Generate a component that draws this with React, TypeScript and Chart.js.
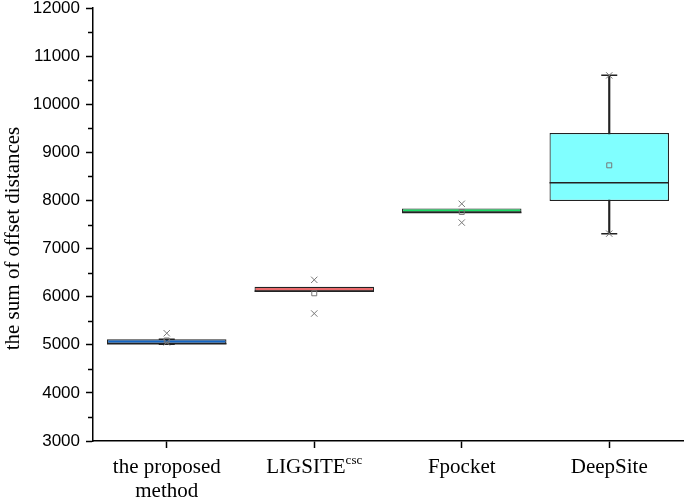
import React, { useEffect, useRef } from "react";
import { Chart, registerables } from "chart.js";

Chart.register(...registerables);

const categories = ["the proposed method", "LIGSITEcsc", "Fpocket", "DeepSite"];
const labelLines = [["the proposed", "method"], ["LIGSITE"], ["Fpocket"], ["DeepSite"]];
const labelSuperscripts = ["", "csc", "", ""];
const boxColors = ["#1366C6", "#EC6B6D", "#1BDD66", "#80FFFF"];

const q1 = [5020, 6110, 7750, 7990];
const q3 = [5115, 6205, 7835, 9400];
const median = [5020, 6110, 7750, 8370];
const mean = [5090, 6070, 7760, 8730];
const whiskerLow = [5010, null, null, 7310];
const whiskerHigh = [5115, null, null, 10600];
const markHigh = [5240, 6350, 7930, 10600];
const markLow = [5050, 5650, 7540, 7310];

const yMin = 3000;
const yMax = 12000;
const yStep = 500;
const yLabelStep = 1000;
const yTitle = "the sum of offset distances";

const BOX_FRACTION = 0.81;

const customPlugin = {
  id: "customDraw",
  afterDraw(chart: any) {
    const { ctx } = chart;
    const x = chart.scales.x;
    const y = chart.scales.y;
    ctx.save();
    // minor y ticks
    ctx.strokeStyle = "#000";
    ctx.lineWidth = 1.5;
    y.ticks.forEach((t: any) => {
      if (t.value % yLabelStep !== 0) {
        const py = Math.round(y.getPixelForValue(t.value)) + 0.5;
        ctx.beginPath();
        ctx.moveTo(y.right - 5, py);
        ctx.lineTo(y.right, py);
        ctx.stroke();
      }
    });
    // x labels
    ctx.fillStyle = "#000";
    ctx.textBaseline = "alphabetic";
    const mainFont = '21px "Liberation Serif", "Times New Roman", serif';
    const supFont = '13px "Liberation Serif", "Times New Roman", serif';
    const base = chart.chartArea.bottom + 32;
    const lineH = 24;
    categories.forEach((_c, i) => {
      const cx = x.getPixelForValue(i);
      const lines = labelLines[i];
      const sup = labelSuperscripts[i];
      lines.forEach((ln, j) => {
        const by = base + j * lineH;
        if (sup && j === lines.length - 1) {
          ctx.font = mainFont;
          const w1 = ctx.measureText(ln).width;
          ctx.font = supFont;
          const w2 = ctx.measureText(sup).width;
          const sx = cx - (w1 + w2) / 2;
          ctx.textAlign = "left";
          ctx.font = mainFont;
          ctx.fillText(ln, sx, by);
          ctx.font = supFont;
          ctx.fillText(sup, sx + w1, by - 9);
        } else {
          ctx.font = mainFont;
          ctx.textAlign = "center";
          ctx.fillText(ln, cx, by);
        }
      });
    });
    // y title
    ctx.font = mainFont;
    ctx.textAlign = "center";
    ctx.textBaseline = "middle";
    ctx.translate(13, (chart.chartArea.top + chart.chartArea.bottom) / 2 + 14);
    ctx.rotate(-Math.PI / 2);
    ctx.fillText(yTitle, 0, 0);
    ctx.restore();
  },
};

export default function App() {
  const canvasRef = useRef<HTMLCanvasElement | null>(null);

  useEffect(() => {
    document.body.style.margin = "0";
    const canvas = canvasRef.current;
    if (!canvas) return;

    const halfBox = (ctx: any) => {
      const sc = ctx.chart.scales.x;
      if (!sc) return 59;
      return ((sc.right - sc.left) / categories.length) * BOX_FRACTION / 2;
    };

    const chart = new Chart(canvas, {
      type: "bar",
      data: {
        labels: categories,
        datasets: [
          {
            type: "bar",
            label: "box",
            data: q1.map((v, i) => [v, q3[i]]) as any,
            backgroundColor: boxColors,
            borderColor: "#222",
            borderWidth: 1.2,
            borderSkipped: false,
            grouped: false,
            barPercentage: BOX_FRACTION,
            categoryPercentage: 1,
            order: 5,
          } as any,
          {
            type: "bar",
            label: "whisker",
            data: whiskerLow.map((v, i) => (v === null ? null : [v, whiskerHigh[i]])) as any,
            backgroundColor: "#222",
            borderWidth: 0,
            grouped: false,
            barThickness: 1.5,
            order: 6,
          } as any,
          {
            type: "line",
            label: "median",
            data: median,
            showLine: false,
            pointStyle: "line",
            pointRadius: halfBox,
            pointHoverRadius: halfBox,
            borderColor: "#222",
            borderWidth: 1.5,
            order: 3,
          } as any,
          {
            type: "line",
            label: "capHigh",
            data: whiskerHigh,
            showLine: false,
            pointStyle: "line",
            pointRadius: 8,
            borderColor: "#222",
            borderWidth: 1.5,
            order: 3,
          } as any,
          {
            type: "line",
            label: "capLow",
            data: whiskerLow,
            showLine: false,
            pointStyle: "line",
            pointRadius: 8,
            borderColor: "#222",
            borderWidth: 1.5,
            order: 3,
          } as any,
          {
            type: "line",
            label: "mean",
            data: mean,
            showLine: false,
            pointStyle: "rect",
            pointRadius: 3.5,
            backgroundColor: "rgba(0,0,0,0)",
            borderColor: "#777",
            borderWidth: 1,
            order: 1,
          } as any,
          {
            type: "line",
            label: "markHigh",
            data: markHigh,
            showLine: false,
            pointStyle: "crossRot",
            pointRadius: 4.5,
            borderColor: "#777",
            borderWidth: 1,
            order: 1,
          } as any,
          {
            type: "line",
            label: "markLow",
            data: markLow,
            showLine: false,
            pointStyle: "crossRot",
            pointRadius: 4.5,
            borderColor: "#777",
            borderWidth: 1,
            order: 1,
          } as any,
        ],
      },
      options: {
        animation: false,
        responsive: true,
        maintainAspectRatio: false,
        layout: { autoPadding: false, padding: { top: 8, right: 2, left: 0, bottom: 0 } },
        plugins: { legend: { display: false }, tooltip: { enabled: false } },
        scales: {
          x: {
            type: "category",
            offset: true,
            grid: {
              offset: false,
              drawOnChartArea: false,
              drawTicks: true,
              tickLength: 7,
              tickColor: "#000",
              tickWidth: 1.5,
            },
            border: { display: true, color: "#000", width: 1.5 },
            ticks: { display: false },
            afterFit: (scale: any) => {
              scale.height = 59;
              scale.paddingLeft = 0;
              scale.paddingRight = 0;
            },
          },
          y: {
            min: yMin,
            max: yMax,
            grid: {
              drawOnChartArea: false,
              drawTicks: true,
              tickLength: 7,
              tickWidth: 1.5,
              tickColor: (ctx: any) =>
                ctx.tick && ctx.tick.value % yLabelStep === 0 ? "#000" : "rgba(0,0,0,0)",
            },
            border: { display: true, color: "#000", width: 1.5 },
            ticks: {
              stepSize: yStep,
              autoSkip: false,
              color: "#000",
              padding: 6,
              font: { family: '"Liberation Sans", Arial, sans-serif', size: 17, lineHeight: 1 },
              callback: (v: any) => (Number(v) % yLabelStep === 0 ? String(v) : ""),
            },
            afterFit: (scale: any) => {
              scale.width = 93;
              scale.paddingTop = 0;
              scale.paddingBottom = 0;
            },
          },
        },
      },
      plugins: [customPlugin],
    });

    return () => chart.destroy();
  }, []);

  return (
    <div style={{ width: 685, height: 500, position: "relative", background: "#fff" }}>
      <canvas ref={canvasRef} />
    </div>
  );
}
